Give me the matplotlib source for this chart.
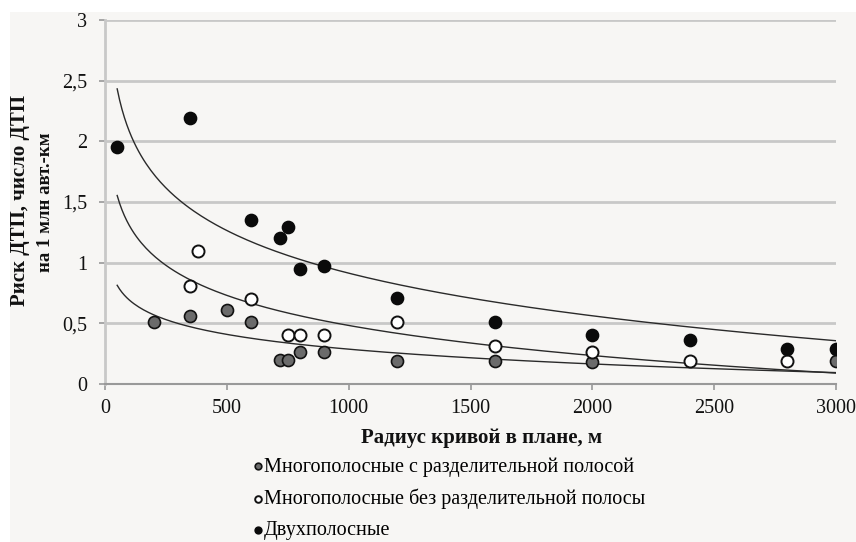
import numpy as np
import matplotlib
matplotlib.use("Agg")
import matplotlib.pyplot as plt
from matplotlib.patches import Rectangle

# radius of curve, m  /  risk values
x_div = [200, 350, 500, 600, 720, 750, 800, 900, 1200, 1600, 2000, 3000]
y_div = [0.51, 0.56, 0.61, 0.51, 0.20, 0.20, 0.26, 0.26, 0.19, 0.19, 0.18, 0.19]

x_nodiv = [350, 380, 600, 750, 800, 900, 1200, 1600, 2000, 2400, 2800]
y_nodiv = [0.81, 1.10, 0.70, 0.40, 0.40, 0.40, 0.51, 0.31, 0.26, 0.19, 0.19]

x_two = [50, 350, 600, 720, 750, 800, 900, 1200, 1600, 2000, 2400, 2800, 3000]
y_two = [1.95, 2.19, 1.35, 1.20, 1.29, 0.95, 0.97, 0.71, 0.51, 0.40, 0.36, 0.29, 0.29]

labels = ["Многополосные с разделительной полосой",
          "Многополосные без разделительной полосы",
          "Двухполосные"]
xticks = [0, 500, 1000, 1500, 2000, 2500, 3000]
yticks = [0, 0.5, 1, 1.5, 2, 2.5, 3]

plt.rcParams['font.family'] = ['Liberation Serif', 'DejaVu Serif']

fig = plt.figure(figsize=(8.56, 5.42), dpi=100)
fig.patch.set_facecolor('white')
fig.patches.append(Rectangle((10 / 856, 0), 1, 1 - 12 / 542, transform=fig.transFigure,
                             facecolor='#f7f6f4', edgecolor='none', zorder=-10))

ax = fig.add_axes([105 / 856, 1 - 384 / 542, 731 / 856, 364 / 542])
ax.patch.set_alpha(0)

# logarithmic trend lines (least squares on ln x)
xs = np.linspace(50, 3000, 300)
for xd, yd in [(x_div, y_div), (x_nodiv, y_nodiv), (x_two, y_two)]:
    a, b = np.polyfit(np.log(xd), yd, 1)
    ax.plot(xs, a * np.log(xs) + b, color='#2a2a2a', lw=1.0, zorder=2)

ms = 75
h1 = ax.scatter(x_div, y_div, s=ms, c='#6b6b6b', edgecolors='#111111', linewidths=1.2, zorder=3)
h2 = ax.scatter(x_nodiv, y_nodiv, s=ms, c='white', edgecolors='#111111', linewidths=1.4, zorder=4)
h3 = ax.scatter(x_two, y_two, s=ms, c='#0a0a0a', edgecolors='#0a0a0a', linewidths=1.2, zorder=5)

ax.set_xlim(0, 3000)
ax.set_ylim(0, 3)
ax.set_xticks(xticks)
ax.set_xticklabels([str(t) for t in xticks])
ax.set_yticks(yticks)
ax.set_yticklabels([str(t).replace('.', ',') if t % 1 else str(int(t)) for t in yticks])
ax.tick_params(axis='both', labelsize=14.5, color='#999999', length=4, width=1.2,
               labelcolor='#111111')
ax.tick_params(axis='x', pad=7)
ax.tick_params(axis='y', pad=9)
ax.grid(axis='y', color='#c8c8c8', lw=2)
ax.set_axisbelow(True)
for s in ['top', 'right']:
    ax.spines[s].set_visible(False)
ax.spines['left'].set_color('#c8c8c8')
ax.spines['left'].set_linewidth(2)
ax.spines['bottom'].set_color('#999999')
ax.spines['bottom'].set_linewidth(1.5)

fig.text(482 / 856, 1 - 438 / 542, "Радиус кривой в плане, м", ha='center', va='center',
         fontsize=15, fontweight='bold', color='#111111')
fig.text(20 / 856, 1 - 200 / 542, "Риск ДТП, число ДТП", rotation=90, ha='center',
         va='center', fontsize=15, fontweight='bold', color='#111111')
fig.text(46 / 856, 1 - 202 / 542, "на 1 млн авт.-км", rotation=90, ha='center',
         va='center', fontsize=13.5, fontweight='bold', color='#111111')

leg = fig.legend([h1, h2, h3], labels, loc='upper left',
                 bbox_to_anchor=(238 / 856, 1 - 447 / 542), frameon=False,
                 fontsize=14.5, handletextpad=-0.2, labelspacing=0.6,
                 markerscale=0.55, handlelength=1.0, borderpad=0)

fig.savefig("out.png", dpi=100, facecolor=fig.get_facecolor())
